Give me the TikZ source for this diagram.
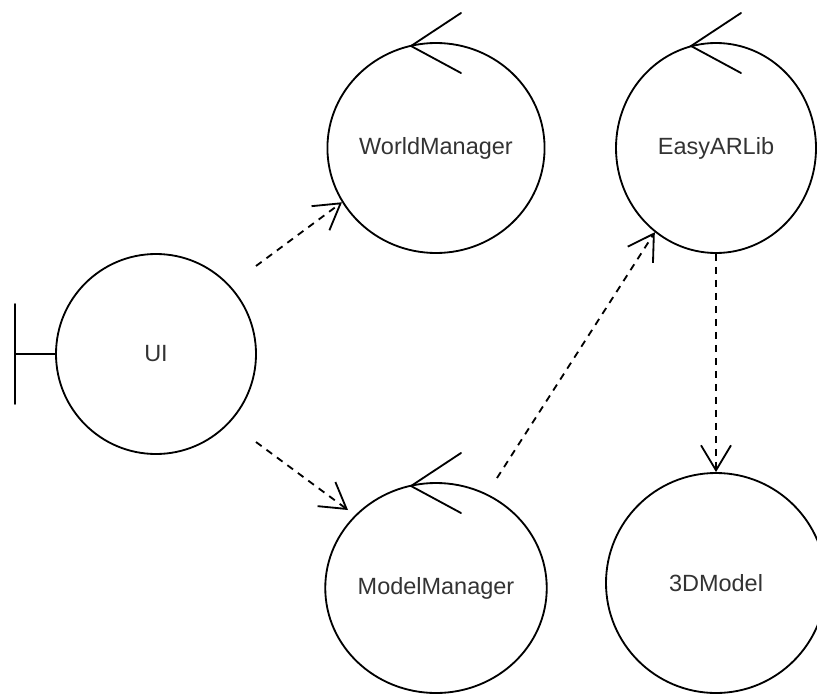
\documentclass[tikz,border=0pt]{standalone}
\usepackage{fontspec}
\setmainfont{Liberation Sans}
\usetikzlibrary{shapes.geometric,arrows.meta}
\definecolor{textGray}{HTML}{333333}
\newcommand{\controlMark}[1]{%%
  %% Draw the open arrow sitting on top of a control.
  \draw[lineStyle] ([shift={(25,-135)}]#1.center) -- ([shift={(-25,-102)}]#1.center)
  -- ([shift={(25,-75)}]#1.center);
}
\newcommand{\boundaryMark}[1]{%%
  %% Draw the bar on the left of a boundary.
  \draw[lineStyle] (#1.west) -- ++(-40,0);
  \draw[lineStyle] ([shift={(-40,-50)}]#1.west) -- ++(0,100);
}

\begin{document}
\begin{tikzpicture}[%%
  x=0.25mm,y=-0.25mm,
  lineStyle/.style={-,line width=1.3pt,line cap=round},%%
  labelStyle/.style={font=\fontsize{16.7}{20}\selectfont,text=textGray},%%
  controlStyle/.style={draw,ellipse,line width=1.3pt,inner sep=0pt,
    minimum width=50mm,minimum height=52.5mm,labelStyle},%%
  boundaryStyle/.style={draw,circle,line width=1.3pt,inner sep=0pt,
    minimum size=50mm,labelStyle},%%
  entityStyle/.style={draw,circle,line width=1.3pt,inner sep=0pt,
    minimum size=55mm,labelStyle},%%
  dependStyle/.style={-{Straight Barb[length=6.25mm,width=7.5mm]},
    line width=1.3pt,dash pattern=on 1.75mm off 1.5mm}
]
%%
\useasboundingbox (0,0) rectangle (817,693);
\clip (0,0) rectangle (817,693);
%%
%% The boundary, the controls and the entity.
\node[boundaryStyle] (ui) at (156,354) {UI};
\node[controlStyle] (wm) at (436,148) {WorldManager};
\node[controlStyle] (ea) at (716,148) {EasyARLib};
\node[controlStyle] (mm) at (436,588) {ModelManager};
\node[entityStyle] (td) at (716,583) {3DModel};
\boundaryMark{ui}
\controlMark{wm}
\controlMark{ea}
\controlMark{mm}
%%
%% Loose ends of the dependencies.
\coordinate (uiTop) at (256,266);
\coordinate (uiBot) at (256,442);
\coordinate (mmIn) at (348,510);
\coordinate (mmOut) at (497,478);
%%
%% Draw the dependencies.
\draw[dependStyle] (uiTop) -- (wm.210);
\draw[dependStyle] (uiBot) -- (mmIn);
\draw[dependStyle] (mmOut) -- (ea.234);
\draw[dependStyle] (ea.south) -- (td.north);

\end{tikzpicture}
\end{document}
